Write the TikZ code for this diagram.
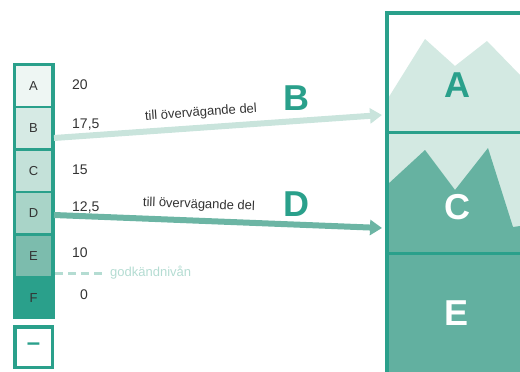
\documentclass[tikz,border=0pt]{standalone}
\usepackage{fontspec}
\setmainfont{Liberation Sans}
\usepackage{tikz}
\usetikzlibrary{calc,positioning,arrows.meta}
\definecolor{frame}{HTML}{2AA08B}
\definecolor{textgray}{HTML}{333333}
\definecolor{cellA}{HTML}{EEF6F3}
\definecolor{cellB}{HTML}{D6EAE4}
\definecolor{cellC}{HTML}{C4E1D9}
\definecolor{cellD}{HTML}{A9D4C8}
\definecolor{cellE}{HTML}{7CBCAD}
\definecolor{arrowLight}{HTML}{C9E4DC}
\definecolor{arrowDark}{HTML}{6CB5A4}
\definecolor{mountLight}{HTML}{D3E9E2}
\definecolor{mountDark}{HTML}{66B2A1}
\definecolor{panelE}{HTML}{62B0A0}
\definecolor{passcol}{HTML}{B4DCD2}

\begin{document}
\begin{tikzpicture}[x=1pt,y=-1pt,
        cell/.style={minimum width=35pt,minimum height=40pt,inner sep=0pt,font=\fontsize{13}{13}\selectfont,text=textgray},
        grade/.style={anchor=west,inner sep=0pt,font=\fontsize{14}{14}\selectfont,text=textgray},
        big/.style={inner sep=0pt,font=\fontsize{36}{36}\selectfont\bfseries},
        note/.style={inner sep=0pt,font=\fontsize{13}{13}\selectfont,text=textgray},
        band/.style={line width=6pt,-{Triangle[length=12pt,width=15pt]}}]
        \useasboundingbox (0,0) rectangle (520,372);

        \filldraw [fill=frame, draw=frame] (13,63) rectangle (54,318);
        \node[cell,fill=cellA] (cA) at (33.5,86) {A};
        \node[cell,fill=cellB,below=2pt of cA] (cB) {B};
        \node[cell,fill=cellC,below=2pt of cB] (cC) {C};
        \node[cell,fill=cellD,below=2pt of cC] (cD) {D};
        \node[cell,fill=cellE,below=2pt of cD] (cE) {E};
        \node[cell,below=2pt of cE] (cF) {F};
        \node[draw=frame,line width=3.5pt,minimum width=37.5pt,minimum height=40.5pt,inner sep=0pt,
              text=frame,font=\fontsize{24}{24}\selectfont\bfseries] (cMinus) at (33.5,347) {–};

        \node[grade] (nA) at (72,85) {20};
        \node[grade] (nB) at (72,125) {17,5};
        \node[grade] (nC) at (72,170) {15};
        \node[grade] (nD) at (72,208) {12,5};
        \node[grade] (nE) at (72,253) {10};
        \node[grade] (nF) at (80,295) {0};

        \coordinate (passStart) at (55,273);
        \node[anchor=west,inner sep=0pt,text=passcol,font=\fontsize{13}{13}\selectfont] (pass) at (110,273) {godkändnivån};
        \draw [passcol, line width=3pt, dash pattern=on 8pt off 5pt] (passStart) -- ($(pass.west)+(-8,0)$);

        \fill [white] (387,13) rectangle (520,132);
        \fill [mountLight] (387,100) -- (425,39) -- (455,66) -- (487,41) -- (520,75) -- (520,132) -- (387,132) -- cycle;
        \fill [mountLight] (387,132) rectangle (520,253);
        \fill [mountDark] (387,185) -- (425,150) -- (455,190) -- (488,148) -- (513,227) -- (520,226) -- (520,253) -- (387,253) -- cycle;
        \fill [panelE] (387,253) rectangle (520,372);
        \draw [frame, line width=4pt] (387,372) -- (387,13) -- (520,13);
        \draw [frame, line width=3pt] (387,132) -- (520,132);
        \draw [frame, line width=3pt] (387,253) -- (520,253);
        \node[big,text=frame] (pA) at (457,85) {A};
        \node[big,text=white] (pC) at (457,207) {C};
        \node[big,text=white] (pE) at (457,313) {E};

        \coordinate (bStart) at (54,138);
        \coordinate (bEnd) at (382,115);
        \coordinate (dStart) at (54,215);
        \coordinate (dEnd) at (382,228);
        \draw [band, arrowLight] (bStart) -- (bEnd);
        \draw [band, arrowDark] (dStart) -- (dEnd);
        \node[note,rotate=4] (tB) at (201,113) {till övervägande del};
        \node[note,rotate=-2] (tD) at (199,205) {till övervägande del};
        \node[big,text=frame] (bigB) at (296,98) {B};
        \node[big,text=frame] (bigD) at (296,204) {D};
\end{tikzpicture}
\end{document}
